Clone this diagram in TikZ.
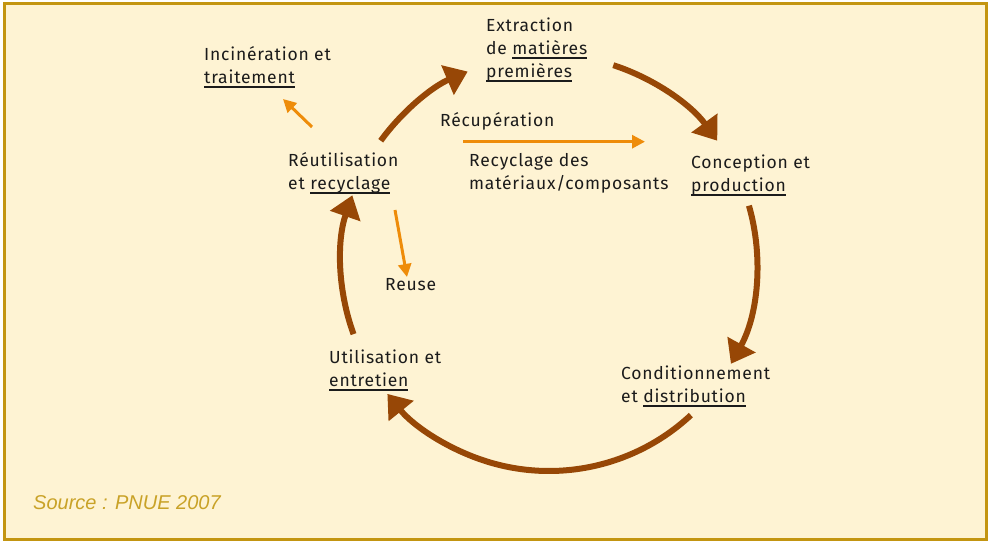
\documentclass[tikz,border=0pt]{standalone}
\usepackage{fontspec}
\setmainfont{Fira Sans}[LetterSpace=4.5]
\setsansfont{Liberation Sans}
\usetikzlibrary{arrows.meta}

\definecolor{paper}{HTML}{FEF3D3}
\definecolor{frame}{HTML}{C39511}
\definecolor{cyclebrown}{HTML}{974706}
\definecolor{flow}{HTML}{EE8C0A}
\definecolor{ink}{HTML}{1B1B1B}
\definecolor{note}{HTML}{C9A227}

% underlined word with a thick rule below the baseline
\newsavebox\ulbox
\newcommand\ulword[1]{\sbox\ulbox{#1}\rlap{\rule[-4.2pt]{\wd\ulbox}{1.8pt}}\usebox\ulbox}

\tikzset{
  label/.style={anchor=base west, inner sep=0pt, align=left, text=ink,
    font=\fontsize{17.5}{23}\selectfont},
  cycle/.style={draw=cyclebrown, line width=6pt,
    -{Triangle[length=22pt,width=31pt]}},
  flowarrow/.style={draw=flow, line width=3pt,
    -{Triangle[length=13pt,width=13pt]}},
}

\begin{document}
\begin{tikzpicture}[x=1pt,y=1pt]
  \useasboundingbox (0,0) rectangle (988,541);
  \fill[white] (0,0) rectangle (988,541);
  \draw[frame, fill=paper, line width=3pt] (4,1.5) rectangle (986.5,537);

  % stages of the life cycle (anchored on the baseline of the last line)
  \node[label] (inc)   at (204,457)   {Incinération et\\\ulword{traitement}};
  \node[label] (ext)   at (486,463)   {Extraction\\de \ulword{matières}\\\ulword{premières}};
  \node[label] (recup) at (440,414)   {Récupération};
  \node[label] (reut)  at (288,351)   {Réutilisation\\et \ulword{recyclage}};
  \node[label] (recyc) at (469,351)   {Recyclage des\\matériaux/composants};
  \node[label] (conc)  at (691,349.5) {Conception et\\\ulword{production}};
  \node[label] (reuse) at (385,250)   {Reuse};
  \node[label] (util)  at (329,154.3) {Utilisation et\\\ulword{entretien}};
  \node[label] (cond)  at (621,138.3) {Conditionnement\\et \ulword{distribution}};
  \node[anchor=base west, inner sep=0pt, text=note,
        font=\sffamily\itshape\fontsize{20}{23}\selectfont] (src) at (33,32) {Source : PNUE 2007};

  % main cycle: arcs around a common centre
  \coordinate (c) at (549,278);
  \def\R{208}
  \coordinate (a1) at ([shift={(144:\R)}]c);
  \coordinate (a2) at ([shift={(72:\R)}]c);
  \coordinate (a3) at ([shift={(16:\R)}]c);
  \coordinate (a4) at ([shift={(-47:\R)}]c);
  \coordinate (a5) at ([shift={(200:\R)}]c);
  \draw[cycle] (a1) arc[start angle=144, end angle=113, radius=\R];
  \draw[cycle] (a2) arc[start angle=72,  end angle=36,  radius=\R];
  \draw[cycle] (a3) arc[start angle=16,  end angle=-29, radius=\R];
  \draw[cycle] (a4) arc[start angle=-47, end angle=-141, radius=\R];
  \draw[cycle] (a5) arc[start angle=200, end angle=161, radius=\R];

  % side flows
  \coordinate (recupS) at (463,399.3);
  \coordinate (recupE) at (645,399.3);
  \coordinate (incS) at (312,414);
  \coordinate (incE) at (283,442);
  \coordinate (reuseS) at (395,331);
  \coordinate (reuseE) at (407,264);
  \draw[flowarrow] (recupS) -- (recupE);
  \draw[flowarrow] (incS) -- (incE);
  \draw[flowarrow] (reuseS) -- (reuseE);
\end{tikzpicture}
\end{document}
